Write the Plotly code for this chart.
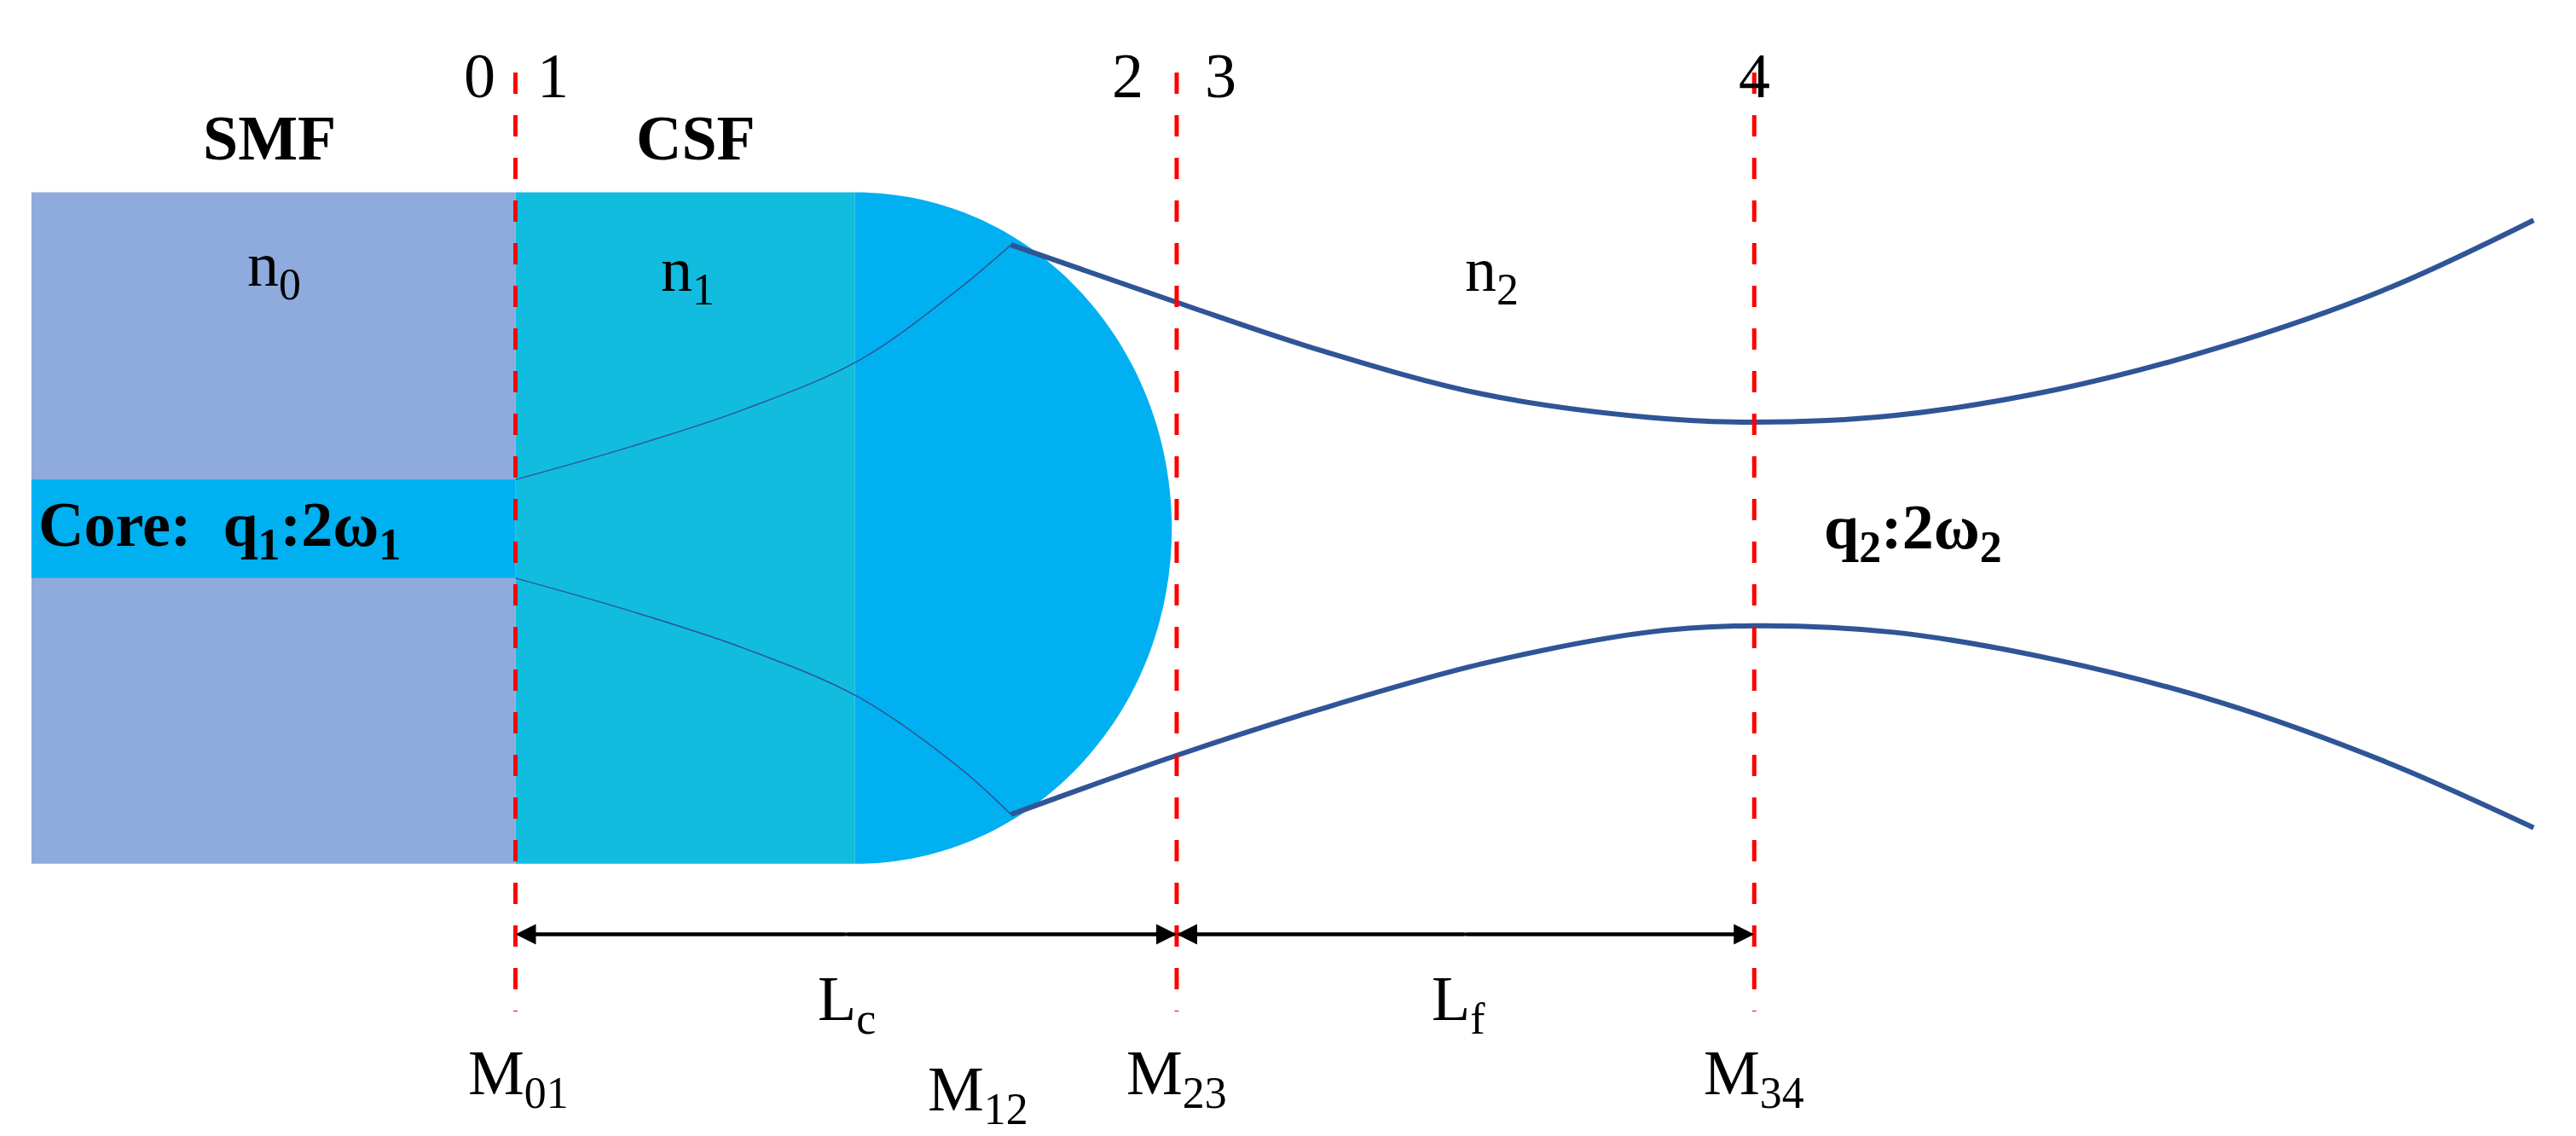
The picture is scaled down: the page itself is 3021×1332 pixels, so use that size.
import plotly.graph_objects as go

# Geometry (display units, 1570 x 690, y downwards)
beam_x = [612, 713, 800, 900, 1000, 1065, 1150, 1250, 1350, 1450, 1540]
beam_upper_y = [145, 180, 209, 236, 250, 253, 249, 233, 207, 172, 130]
beam_lower_y = [492, 456, 428, 400, 381, 377, 381, 398, 424, 460, 500]
inner_x = [310, 380, 450, 520, 580, 612]
inner_upper_y = [288, 268, 245, 215, 172, 145]
inner_lower_y = [348, 368, 391, 421, 463, 492]
planes_x = [310, 713, 1065]
plane_numbers = [("0", 288), ("1", 333), ("2", 683), ("3", 740), ("4", 1065)]
matrix_labels = [("M<sub>01</sub>", 312, 652), ("M<sub>12</sub>", 592, 662),
                 ("M<sub>23</sub>", 713, 652), ("M<sub>34</sub>", 1065, 652)]

SERIF = "Liberation Serif"
BLUE = "#2F5597"
fig = go.Figure()

shapes = [
    dict(type="rect", x0=15, x1=310, y0=113, y1=522, fillcolor="#8FAADC", line_width=0, layer="below"),
    dict(type="rect", x0=15, x1=310, y0=288, y1=348, fillcolor="#00B0F0", line_width=0, layer="below"),
    dict(type="path", path="M 517 113 C 624 113 710 204 710 318 C 710 431 624 522 517 522 Z",
         fillcolor="#00B0F0", line_width=0, layer="below"),
    dict(type="rect", x0=310, x1=517, y0=113, y1=522, fillcolor="#12BCDF", line_width=0, layer="below"),
    dict(type="line", x0=315, x1=1060, y0=565, y1=565, line=dict(color="black", width=4)),
]
for px in planes_x:
    shapes.append(dict(type="line", x0=px, x1=px, y0=40, y1=612,
                       line=dict(color="#FF0000", width=5, dash="longdash")))
fig.update_layout(shapes=shapes)

for ys in (inner_upper_y, inner_lower_y):
    fig.add_trace(go.Scatter(x=inner_x, y=ys, mode="lines", line=dict(color=BLUE, width=1.5, shape="spline"),
                             hoverinfo="skip", showlegend=False))
for ys in (beam_upper_y, beam_lower_y):
    fig.add_trace(go.Scatter(x=beam_x, y=ys, mode="lines", line=dict(color=BLUE, width=6, shape="spline"),
                             hoverinfo="skip", showlegend=False))

ann = []
def txt(t, x, y, size=74, bold=False, xanchor="center"):
    ann.append(dict(text=f"<b>{t}</b>" if bold else t, x=x, y=y, xref="x", yref="y", showarrow=False,
                    xanchor=xanchor, font=dict(family=SERIF, size=size, color="black")))

for t, x in plane_numbers:
    txt(t, x, 42)
txt("SMF", 160, 80, bold=True)
txt("CSF", 420, 80, bold=True)
txt("n<sub>0</sub>", 163, 160)
txt("n<sub>1</sub>", 415, 163)
txt("n<sub>2</sub>", 905, 163)
txt("Core:  q<sub>1</sub>:2ω<sub>1</sub>", 18, 318, bold=True, xanchor="left")
txt("q<sub>2</sub>:2ω<sub>2</sub>", 1162, 320, bold=True)
txt("L<sub>c</sub>", 512, 607)
txt("L<sub>f</sub>", 885, 607)
for t, x, y in matrix_labels:
    txt(t, x, y)

# double arrows
for a, b in [(310, 713), (713, 1065)]:
    for s, e in [(a, b), (b, a)]:
        ann.append(dict(x=e, y=565, ax=(s + e) / 2, ay=565, xref="x", yref="y", axref="x", ayref="y",
                        text="", showarrow=True, arrowhead=2, arrowsize=1.2, arrowwidth=4, arrowcolor="black"))
fig.update_layout(annotations=ann)

fig.update_layout(width=3021, height=1332, margin=dict(l=0, r=0, t=0, b=0),
                  plot_bgcolor="white", paper_bgcolor="white",
                  xaxis=dict(range=[0, 1570], visible=False),
                  yaxis=dict(range=[692, 0], visible=False))
fig.write_html("out.html")
